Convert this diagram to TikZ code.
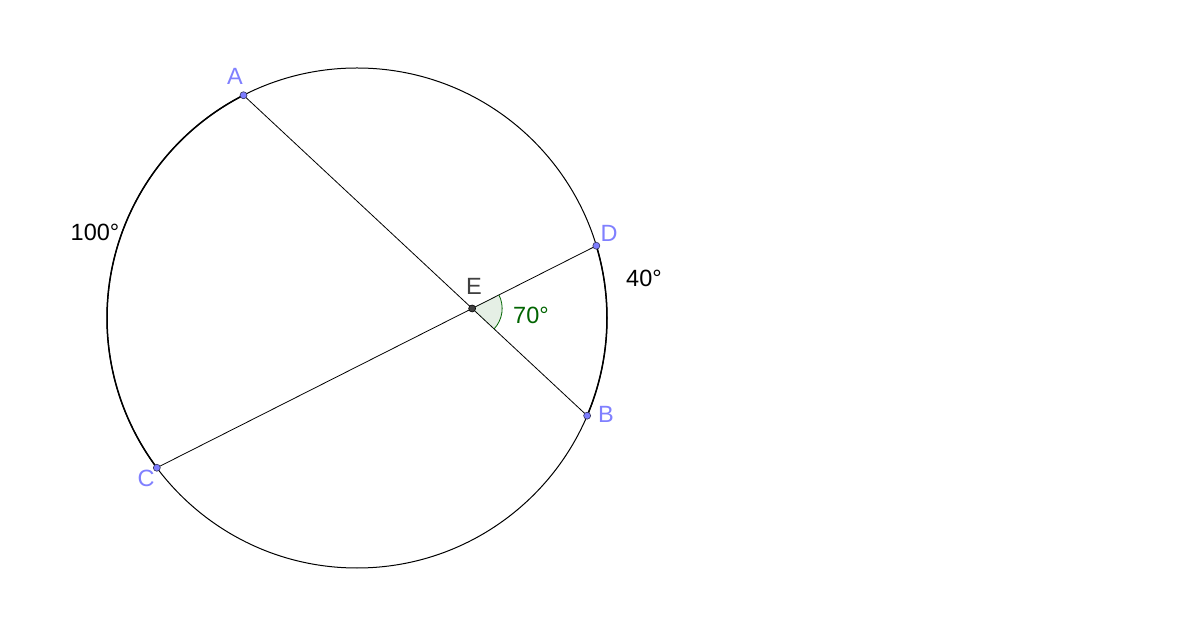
\documentclass[tikz,border=0pt]{standalone}
\usepackage{fontspec}
\setmainfont{Liberation Sans}
\usetikzlibrary{angles,calc}
\definecolor{ptblue}{RGB}{125,125,255}
\definecolor{lblblue}{RGB}{128,128,255}
\definecolor{ptedge}{RGB}{50,50,90}
\definecolor{dkgreen}{RGB}{0,100,0}
\definecolor{egray}{RGB}{64,64,64}
\tikzset{
  seg/.style={line width=0.8pt, black},
  arcmark/.style={line width=1.5pt, black},
  bluept/.style={circle, fill=ptblue, draw=ptedge, line width=0.6pt, inner sep=0pt, minimum size=7pt},
  darkpt/.style={circle, fill=egray, draw=black, line width=0.6pt, inner sep=0pt, minimum size=7pt},
  lbl/.style={font=\fontsize{23.5}{28}\selectfont, inner sep=0pt},
}
\begin{document}
\begin{tikzpicture}[x=1pt,y=1pt]
\useasboundingbox (0,0) rectangle (1199,632);
\fill[white] (0,0) rectangle (1199,632);
\coordinate (O) at (357,314);
\coordinate (A) at ($(O)+(117:250)$);
\coordinate (C) at ($(O)+(216.8:250)$);
\coordinate (D) at ($(O)+(16.8:250)$);
\coordinate (B) at ($(O)+(-23:250)$);
\coordinate (E) at (intersection of A--B and C--D);
% circle
\draw[line width=1pt] (O) circle[radius=250];
% marked arcs
\draw[arcmark] (A) arc[start angle=117, end angle=216.8, radius=250];
\draw[arcmark] (B) arc[start angle=-23, end angle=16.8, radius=250];
% chords
\draw[seg] (A) -- (B);
\draw[seg] (C) -- (D);
% angle
\pic[draw=dkgreen, line width=0.8pt, fill=dkgreen, fill opacity=0.1, angle radius=30pt] {angle=B--E--D};
% points
\node[bluept] (pA) at (A) {};
\node[bluept] (pB) at (B) {};
\node[bluept] (pC) at (C) {};
\node[bluept] (pD) at (D) {};
\node[darkpt] (pE) at (E) {};
% labels
\node[lbl, text=lblblue] (lA) at (235,556) {A};
\node[lbl, text=lblblue] (lB) at (606,218) {B};
\node[lbl, text=lblblue] (lC) at (146,154) {C};
\node[lbl, text=lblblue] (lD) at (609,399) {D};
\node[lbl, text=egray] (lE) at (474,346) {E};
\node[lbl] (l100) at (95,400) {100°};
\node[lbl] (l40) at (644,354) {40°};
\node[lbl, text=dkgreen] (l70) at (531,317) {70°};
\end{tikzpicture}
\end{document}
